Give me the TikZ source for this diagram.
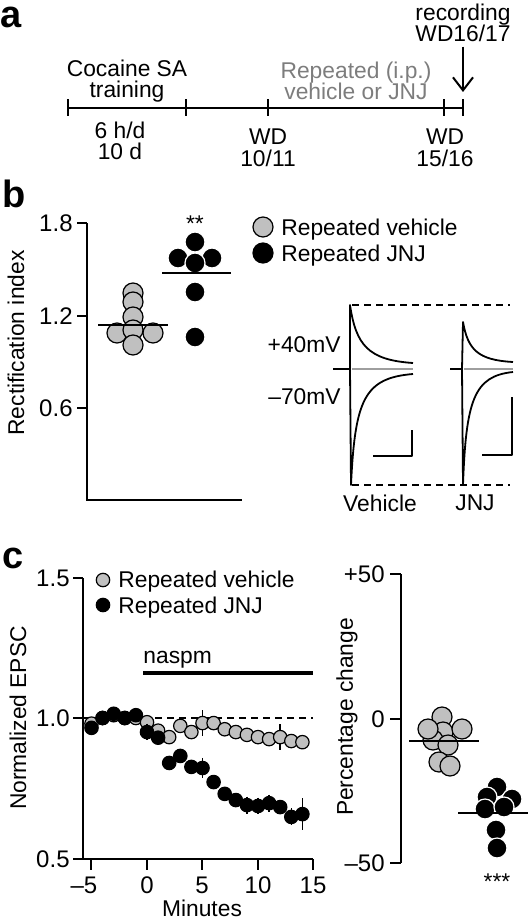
\documentclass[tikz,border=0pt]{standalone}
\usepackage{fontspec}
\setmainfont{Liberation Sans}
\usepackage{xcolor}
\usepackage{tikz}
\usetikzlibrary{calc}
\usetikzlibrary{arrows.meta}
\usetikzlibrary{positioning}

\definecolor{dotgray}{RGB}{192,192,192}
\definecolor{tracegray}{RGB}{158,158,158}
\definecolor{txtgray}{RGB}{125,125,125}

\tikzset{
 lbl/.style={font=\fontsize{11.4}{10.8}\selectfont, inner sep=0pt, align=center},
 ticklbl/.style={font=\fontsize{12}{12}\selectfont, inner sep=0pt},
 panel/.style={font=\fontsize{19}{19}\selectfont\bfseries, inner sep=0pt},
 axisline/.style={line width=1pt},
 vehdot/.style={draw=black, fill=dotgray, line width=0.6pt},
 jnjdot/.style={draw=white, fill=black, line width=0.6pt},
 tcdot/.style={draw=black, line width=0.6pt},
 meanline/.style={line width=1pt},
 trace/.style={line width=0.9pt, line join=round},
 refline/.style={line width=0.8pt, dash pattern=on 3.5pt off 2.5pt}
}

\begin{document}
\begin{tikzpicture}[x=0.5pt, y=-0.5pt]
 \useasboundingbox (0,0) rectangle (531,920);

 \node [panel] (pa) at (11,17) {a};
 \coordinate (t0) at (68,108);
 \coordinate (t1) at (186,108);
 \coordinate (t2) at (268,108);
 \coordinate (t3) at (444,108);
 \coordinate (t4) at (463,108);
 \coordinate (recpt) at (463,92);
 \draw [axisline] (t0) -- (t4);
 \foreach \c in {t0,t1,t2,t3,t4}
  \draw [axisline] ($(\c)+(0,-8.5)$) -- ($(\c)+(0,8.5)$);
 \node [lbl] (train) at (127,81) {Cocaine SA\\training};
 \node [lbl] (sched) at (120,141) {6 h/d\\10 d};
 \node [lbl] (wda) at (268,148) {WD\\10/11};
 \node [lbl, text=txtgray] (inj) at (356,81) {Repeated (i.p.)\\vehicle or JNJ};
 \node [lbl] (wdb) at (445,148) {WD\\15/16};
 \node [lbl] (rec) at (463,23) {recording\\WD16/17};
 \draw [line width=1pt, -{Straight Barb[length=6.5pt, width=10pt]}, shorten <=2pt] (rec) -- (recpt);

 \node [panel] (pb) at (14,194) {b};
 \draw [axisline] (87,223) -- (87,500) -- (242,500);
 \foreach \y/\l [count=\i] in {223/1.8, 316/1.2, 408/0.6} {
  \draw [axisline] (77,\y) -- (87,\y);
  \node [ticklbl, anchor=east] (rbtick\i) at (73,\y) {\l};
 }
 \node [lbl, rotate=90] (rblab) at (16,343) {Rectification index};
 \foreach \x/\y in {133/293, 133/302, 133/317, 117/333, 153/333, 133/330, 133/345}
  \draw [vehdot] (\x,\y) circle (5pt);
 \foreach \x/\y in {195/242, 178/258, 212/258, 195/263, 195/292, 195/337}
  \draw [jnjdot] (\x,\y) circle (5pt);
 \draw [meanline] (98,325) -- (168,325);
 \draw [meanline] (162,273) -- (231,273);
 \node [lbl] (rbstar) at (195,224) {**};

 \draw [vehdot] (263,227) circle (5pt);
 \draw [jnjdot, draw=black] (263,253) circle (5pt);
 \node [lbl, anchor=base west] (rbveh) at (281,235) {Repeated vehicle};
 \node [lbl, anchor=base west] (rbjnj) at (281,261) {Repeated JNJ};

 \draw [refline] (352,305) -- (510,305);
 \draw [refline] (352,485) -- (510,485);
 \node [lbl, anchor=east] (vpos) at (341,345) {+40mV};
 \node [lbl, anchor=east] (vneg) at (341,397) {--70mV};
 \draw [trace, line width=1.4pt] (333,369) -- (350,369);
 \draw [trace, tracegray, line width=1.3pt] (352,369) -- (413,369);
 \draw [trace] (350,369) -- (350,305) .. controls (356,345) and (368,360) .. (413,363);
 \draw [trace] (350,369) -- (351,485) .. controls (355,400) and (364,378) .. (413,374);
 \draw [trace, line width=1.4pt] (450,369) -- (462,369);
 \draw [trace, tracegray, line width=1.3pt] (464,369) -- (513,369);
 \draw [trace] (462,369) -- (463,322) .. controls (468,350) and (478,360) .. (513,362);
 \draw [trace] (462,369) -- (463,485) .. controls (466,400) and (474,376) .. (513,372);
 \draw [trace] (373,456) -- (412,456) -- (412,430);
 \draw [trace] (482,455) -- (512,455) -- (512,397);
 \node [lbl] (veh) at (380,503) {Vehicle};
 \node [lbl] (jnj) at (475,503) {JNJ};

 \node [panel] (pc) at (13,558) {c};
 \draw [axisline] (83,578) -- (83,859) -- (313,859);
 \foreach \y/\l [count=\i] in {578/1.5, 718/1.0, 859/0.5} {
  \draw [axisline] (73,\y) -- (83,\y);
  \node [ticklbl, anchor=east] (nytick\i) at (70,\y) {\l};
 }
 \foreach \x/\lx/\l [count=\i] in {91/84/--5, 147/147/0, 202/202/5, 258/258/10, 313/313/15} {
  \draw [axisline] (\x,859) -- (\x,870);
  \node [ticklbl] (nxtick\i) at (\lx,885) {\l};
 }
 \node [lbl] (nxlab) at (202,908) {Minutes};
 \node [lbl, rotate=90] (nylab) at (18,718) {Normalized EPSC};
 \draw [refline] (83,718) -- (313,718);
 \node [lbl, anchor=base west] (naspm) at (143,663) {naspm};
 \draw [line width=2pt] (143,673) -- (313,673);

 \foreach \t/\v/\e in {-5/0.98/0.01, -4/1.0/0.01, -3/1.01/0.01, -2/1.0/0.01, -1/1.0/0.01,
   0/0.985/0.015, 1/0.955/0.02, 2/0.932/0.02, 3/0.972/0.025, 4/0.95/0.02, 5/0.982/0.045,
   6/0.982/0.02, 7/0.96/0.015, 8/0.95/0.015, 9/0.94/0.015, 10/0.932/0.015, 11/0.925/0.02,
   12/0.932/0.045, 13/0.918/0.015, 14/0.914/0.015} {
  \draw [line width=0.8pt] ({147+11.1*\t},{718-281*(\v-1+\e)}) -- ({147+11.1*\t},{718-281*(\v-1-\e)});
  \draw [tcdot, fill=dotgray] ({147+11.1*\t},{718-281*(\v-1)}) circle (3.35pt);
 }
 \foreach \t/\v/\e in {-5/0.965/0.015, -4/1.0/0.015, -3/1.015/0.015, -2/1.0/0.02, -1/1.01/0.015,
   0/0.95/0.03, 1/0.93/0.025, 2/0.84/0.02, 3/0.865/0.015, 4/0.826/0.025, 5/0.822/0.036,
   6/0.772/0.02, 7/0.73/0.015, 8/0.708/0.025, 9/0.69/0.03, 10/0.687/0.03, 11/0.697/0.03,
   12/0.683/0.025, 13/0.648/0.03, 14/0.658/0.057} {
  \draw [line width=0.8pt] ({147+11.1*\t},{718-281*(\v-1+\e)}) -- ({147+11.1*\t},{718-281*(\v-1-\e)});
  \draw [tcdot, fill=black] ({147+11.1*\t},{718-281*(\v-1)}) circle (3.35pt);
 }
 \draw [tcdot, fill=dotgray] (103,580) circle (3.35pt);
 \draw [tcdot, fill=black] (103,605) circle (3.35pt);
 \node [lbl, anchor=base west] (ncveh) at (118,587) {Repeated vehicle};
 \node [lbl, anchor=base west] (ncjnj) at (118,613) {Repeated JNJ};

 \draw [axisline] (401,574) -- (401,863);
 \foreach \y/\l [count=\i] in {574/+50, 719/0, 863/--50} {
  \draw [axisline] (390,\y) -- (401,\y);
  \node [ticklbl, anchor=east] (pytick\i) at (385,\y) {\l};
 }
 \node [lbl, rotate=90] (pylab) at (347,717) {Percentage change};
 \foreach \x/\y in {442/717, 443/732, 433/740, 428/729, 462/729, 448/745, 439/762, 450/766}
  \draw [vehdot] (\x,\y) circle (5pt);
 \foreach \x/\y in {497/787, 487/797, 512/799, 485/809, 504/807, 496/830, 497/848}
  \draw [jnjdot] (\x,\y) circle (5pt);
 \draw [meanline] (409,741) -- (479,741);
 \draw [meanline] (458,813) -- (528,813);
 \node [lbl] (pstar) at (497,882) {***};
\end{tikzpicture}
\end{document}
